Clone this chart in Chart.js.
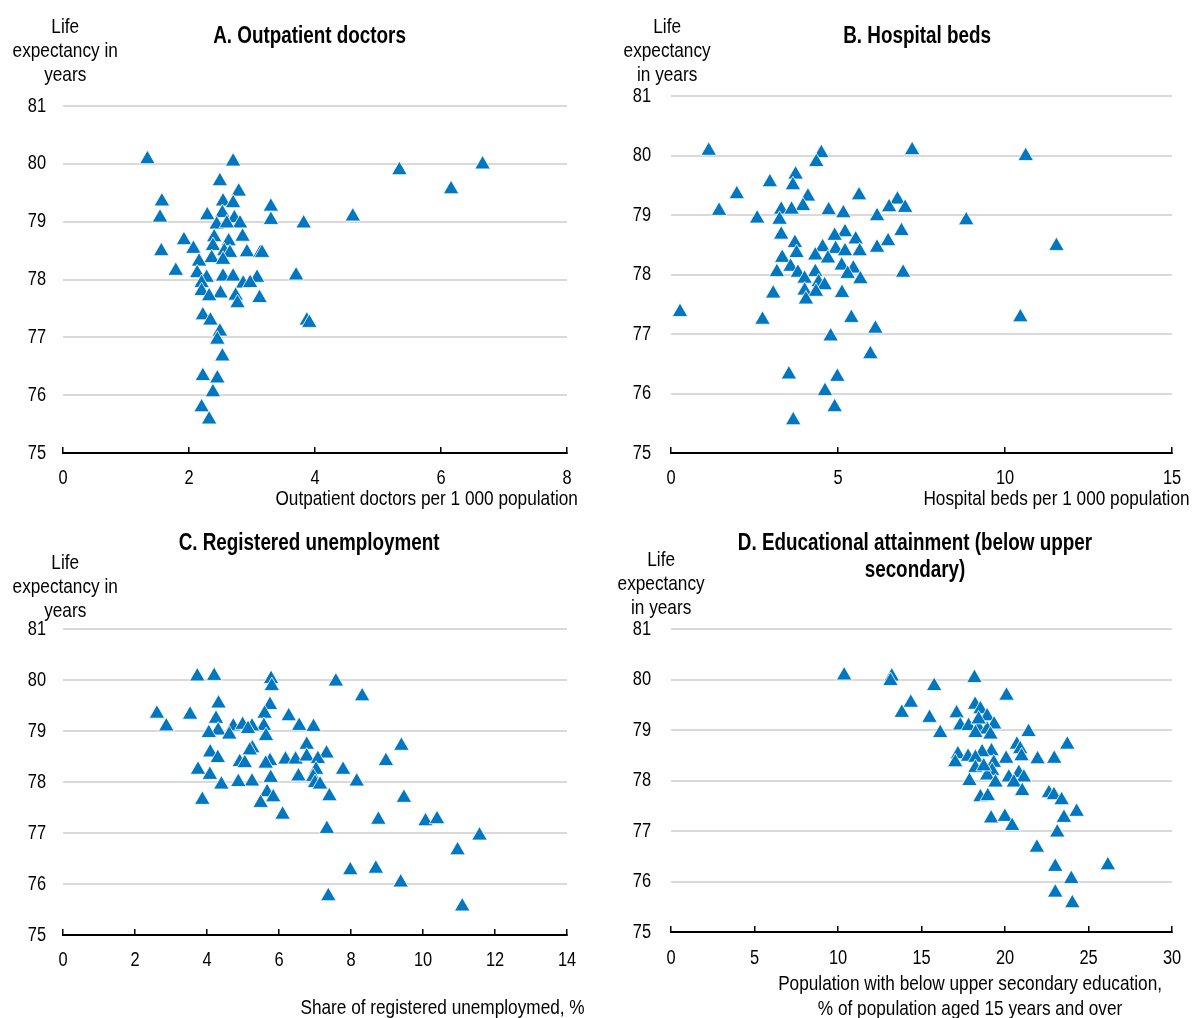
<!DOCTYPE html>
<html>
<head>
<meta charset="utf-8">
<script src="https://cdn.jsdelivr.net/npm/chart.js@4"></script>
<style>
  body { margin: 0; background: #fff; width: 1192px; height: 1018px; position: relative; overflow: hidden;
         font-family: "Liberation Sans", Arial, sans-serif; color: #000; }
  .panel { position: absolute; width: 596px; height: 509px; }
  .txt { position: absolute; font-size: 21px; line-height: 24px; white-space: nowrap; }
  .ttl { position: absolute; font-weight: bold; font-size: 23px; line-height: 27px; text-align: center; white-space: nowrap; }
  .narrow { display: inline-block; transform: scaleX(0.82); }
  .c .narrow { transform-origin: center top; }
  .r .narrow { transform-origin: right top; }
</style>
</head>
<body>
<div class="panel" style="left:0;top:0"><canvas id="chartA" width="596" height="509"></canvas></div>
<div class="panel" style="left:596px;top:0"><canvas id="chartB" width="596" height="509"></canvas></div>
<div class="panel" style="left:0;top:509px"><canvas id="chartC" width="596" height="509"></canvas></div>
<div class="panel" style="left:596px;top:509px"><canvas id="chartD" width="596" height="509"></canvas></div>

<div class="ttl c" style="left:110px;top:22px;width:400px"><span class="narrow">A. Outpatient doctors</span></div>
<div class="ttl c" style="left:717px;top:22px;width:400px"><span class="narrow">B. Hospital beds</span></div>
<div class="ttl c" style="left:109px;top:529px;width:400px"><span class="narrow">C. Registered unemployment</span></div>
<div class="ttl c" style="left:615px;top:529px;width:600px"><span class="narrow">D. Educational attainment (below upper<br>secondary)</span></div>

<div class="txt c" style="left:0;top:14px;width:130px;text-align:center"><span class="narrow">Life<br>expectancy in<br>years</span></div>
<div class="txt c" style="left:602px;top:14px;width:130px;text-align:center"><span class="narrow">Life<br>expectancy<br>in years</span></div>
<div class="txt c" style="left:0;top:550px;width:130px;text-align:center"><span class="narrow">Life<br>expectancy in<br>years</span></div>
<div class="txt c" style="left:596px;top:547px;width:130px;text-align:center"><span class="narrow">Life<br>expectancy<br>in years</span></div>

<div class="txt r" style="left:78px;top:486px;width:500px;text-align:right"><span class="narrow">Outpatient doctors per 1 000 population</span></div>
<div class="txt r" style="left:690px;top:486px;width:500px;text-align:right"><span class="narrow">Hospital beds per 1 000 population</span></div>
<div class="txt r" style="left:85px;top:995px;width:500px;text-align:right"><span class="narrow">Share of registered unemploymed, %</span></div>
<div class="txt c" style="left:670px;top:970px;width:600px;text-align:center;line-height:25px"><span class="narrow">Population with below upper secondary education,<br>% of population aged 15 years and over</span></div>

<script>
// A. outpatient doctors per 1 000 population vs life expectancy
const doctors = [1.34, 2.70, 5.34, 6.66, 2.49, 6.16, 2.79, 1.57, 2.54, 2.70, 3.30, 4.60, 1.54, 2.29, 2.53, 3.30,
  3.82, 2.72, 2.81, 2.44, 2.60, 2.40, 2.85, 1.92, 2.63, 2.38, 2.07, 1.56, 2.92, 3.13, 3.16, 2.56, 2.65, 2.36,
  2.16, 2.54, 1.79, 2.13, 2.28, 2.54, 2.70, 3.70, 3.08, 2.86, 2.97, 2.20, 2.20, 2.50, 2.32, 2.74, 3.12, 2.77,
  2.22, 2.34, 3.87, 3.91, 2.49, 2.45, 2.53, 2.22, 2.45, 2.38, 2.20, 2.32];
const lifeA = [80.08, 80.04, 79.89, 79.99, 79.70, 79.56, 79.52, 79.35, 79.35, 79.32, 79.26, 79.09, 79.07, 79.11, 79.15, 79.03,
  78.97, 79.06, 78.97, 78.95, 78.97, 78.73, 78.74, 78.68, 78.66, 78.58, 78.53, 78.49, 78.47, 78.46, 78.46, 78.49, 78.46, 78.37,
  78.31, 78.34, 78.15, 78.11, 78.03, 78.05, 78.05, 78.07, 78.03, 77.93, 77.94, 77.94, 77.80, 77.76, 77.71, 77.72, 77.68, 77.59,
  77.38, 77.29, 77.29, 77.25, 77.10, 76.96, 76.67, 76.33, 76.29, 76.05, 75.79, 75.58];

// B. hospital beds per 1 000 population
const beds = [1.13, 4.50, 7.22, 10.62, 4.35, 3.73, 2.96, 3.65, 1.97, 5.63, 4.10, 6.78, 3.95, 6.53, 7.01, 1.44, 3.30, 3.61,
  4.72, 5.16, 6.17, 2.58, 3.25, 8.84, 6.90, 3.30, 5.21, 4.90, 5.53, 6.50, 3.71, 4.54, 11.54, 6.17, 4.93, 5.21, 5.65, 3.76,
  4.32, 3.33, 4.70, 5.11, 3.58, 5.46, 3.17, 6.95, 3.80, 4.32, 5.29, 4.00, 5.67, 4.42, 4.60, 4.00, 4.34, 3.06, 5.12, 4.04,
  0.27, 10.46, 5.40, 2.74, 6.12, 4.78, 5.97, 3.53, 4.98, 4.61, 4.90, 3.66];
const lifeB = [80.08, 80.04, 80.09, 79.99, 79.89, 79.68, 79.55, 79.50, 79.35, 79.33, 79.31, 79.26, 79.15, 79.13, 79.12, 79.07, 79.09, 79.09,
  79.08, 79.03, 78.98, 78.94, 78.92, 78.91, 78.73, 78.67, 78.71, 78.65, 78.59, 78.56, 78.53, 78.46, 78.48, 78.45, 78.43, 78.39, 78.39, 78.36,
  78.32, 78.28, 78.27, 78.15, 78.13, 78.10, 78.04, 78.03, 78.03, 78.04, 78.01, 77.93, 77.92, 77.87, 77.82, 77.73, 77.71, 77.68, 77.69, 77.58,
  77.37, 77.28, 77.27, 77.24, 77.09, 76.96, 76.66, 76.32, 76.28, 76.04, 75.77, 75.55];

// C. share of registered unemployed, %
const unemployed = [3.73, 4.20, 5.78, 5.80, 7.58, 8.31, 4.32, 5.75, 2.61, 3.53, 5.60, 6.27, 4.25, 2.87, 6.56, 6.96, 5.58, 4.73,
  4.99, 5.25, 5.14, 4.31, 4.05, 4.62, 5.64, 9.40, 6.77, 5.26, 5.19, 4.09, 7.32, 4.30, 8.97, 4.91, 5.05, 5.75, 6.18, 6.46,
  6.77, 7.08, 5.63, 3.75, 7.03, 7.78, 4.08, 5.77, 6.54, 6.95, 8.16, 5.25, 4.87, 4.40, 7.00, 7.14, 5.67, 7.40, 9.47, 5.84,
  3.87, 5.49, 6.10, 8.76, 10.07, 10.39, 7.33, 11.57, 10.96, 7.98, 8.69, 9.38, 7.37, 11.09];
const lifeC = [80.07, 80.08, 80.02, 79.88, 79.97, 79.68, 79.54, 79.51, 79.34, 79.32, 79.34, 79.29, 79.24, 79.09, 79.10, 79.08, 79.10, 79.09,
  79.12, 79.09, 79.04, 79.01, 78.96, 78.93, 78.90, 78.71, 78.73, 78.66, 78.62, 78.58, 78.56, 78.47, 78.41, 78.39, 78.37, 78.41, 78.44, 78.44,
  78.50, 78.45, 78.36, 78.24, 78.24, 78.24, 78.14, 78.08, 78.11, 78.10, 78.01, 78.01, 78.00, 77.95, 77.98, 77.95, 77.80, 77.72, 77.69, 77.70,
  77.65, 77.59, 77.36, 77.26, 77.23, 77.27, 77.08, 76.95, 76.66, 76.27, 76.30, 76.03, 75.76, 75.56];

// D. population with below upper secondary education, % of population aged 15+
const belowUpper = [10.37, 13.22, 13.14, 18.17, 15.76, 20.09, 14.36, 18.21, 13.82, 15.48, 17.10, 18.53, 18.93, 19.35, 17.32, 17.82,
  18.42, 18.93, 16.12, 21.41, 18.23, 19.13, 23.73, 20.71, 20.91, 19.19, 18.63, 17.18, 17.79, 18.23, 20.99, 20.07, 21.95, 22.95,
  17.02, 19.33, 18.23, 19.23, 20.83, 18.93, 20.23, 21.13, 17.87, 19.43, 20.53, 21.03, 22.63, 22.93, 23.39, 18.53, 18.97, 24.29,
  23.53, 19.17, 19.99, 20.43, 23.13, 21.91, 26.16, 23.01, 23.97, 23.01, 24.03, 18.73, 18.42];
const lifeD = [80.08, 80.06, 79.97, 80.03, 79.87, 79.68, 79.54, 79.50, 79.34, 79.24, 79.33, 79.41, 79.27, 79.11, 79.09, 79.08,
  79.04, 79.01, 78.94, 78.96, 78.94, 78.91, 78.71, 78.71, 78.62, 78.58, 78.56, 78.52, 78.47, 78.45, 78.48, 78.43, 78.42, 78.43,
  78.36, 78.35, 78.25, 78.19, 78.15, 78.10, 78.06, 78.06, 77.99, 77.96, 77.96, 77.79, 77.75, 77.71, 77.61, 77.67, 77.69, 77.38,
  77.26, 77.25, 77.28, 77.10, 76.97, 76.67, 76.32, 76.29, 76.05, 75.78, 75.57, 78.28, 79.21];

const markerColor = "#0077c0";

// tick labels drawn horizontally squeezed to look like Arial Narrow
function drawNarrow(ctx, text, x, y) {
  ctx.save();
  ctx.translate(x, y);
  ctx.scale(0.82, 1);
  ctx.fillText(text, 0, 0);
  ctx.restore();
}

const narrowLabels = {
  id: "narrowLabels",
  afterDraw(chart, args, opts) {
    const ctx = chart.ctx;
    const xScale = chart.scales.x;
    const yScale = chart.scales.y;
    const area = chart.chartArea;
    ctx.save();
    ctx.fillStyle = "#000";
    ctx.font = "20px 'Liberation Sans', Arial, sans-serif";
    ctx.textBaseline = "middle";
    ctx.textAlign = "center";
    xScale.ticks.forEach(t => drawNarrow(ctx, String(t.value), xScale.getPixelForValue(t.value), area.bottom + opts.xGap));
    ctx.textAlign = "right";
    yScale.ticks.forEach(t => drawNarrow(ctx, String(t.value), area.left - opts.yGap, yScale.getPixelForValue(t.value)));
    ctx.restore();
  }
};

function makePanel(id, xs, ys, xMax, xStep, top, right, yWidth, xHeight, gaps) {
  const points = xs.map((x, i) => ({ x: x, y: ys[i] }));
  return new Chart(document.getElementById(id), {
    type: "scatter",
    plugins: [narrowLabels],
    data: {
      datasets: [{
        data: points,
        pointStyle: "triangle",
        pointRadius: 9,
        backgroundColor: markerColor,
        borderColor: "#ffffff",
        borderWidth: 0.8
      }]
    },
    options: {
      responsive: false,
      animation: false,
      layout: { padding: { top: top, right: right, left: 0, bottom: 0 } },
      plugins: {
        legend: { display: false },
        tooltip: { enabled: false },
        narrowLabels: gaps
      },
      scales: {
        x: {
          type: "linear",
          min: 0,
          max: xMax,
          ticks: { stepSize: xStep, display: false },
          grid: { drawOnChartArea: false, drawTicks: true, tickLength: -6, color: "#000", lineWidth: 1.5 },
          border: { color: "#000", width: 2 },
          afterFit: (axis) => { axis.height = xHeight; }
        },
        y: {
          min: 75,
          max: 81,
          ticks: { stepSize: 1, display: false },
          grid: { color: "#d9d9d9", lineWidth: 2, drawTicks: false },
          border: { display: false },
          afterFit: (axis) => { axis.width = yWidth; }
        }
      }
    }
  });
}

makePanel("chartA", doctors, lifeA, 8, 2, 106, 29, 63, 56, { xGap: 25, yGap: 17 });
makePanel("chartB", beds, lifeB, 15, 5, 96, 20, 75, 56, { xGap: 25, yGap: 20 });
makePanel("chartC", unemployed, lifeC, 14, 2, 120, 29, 63, 83, { xGap: 25, yGap: 17 });
makePanel("chartD", belowUpper, lifeD, 30, 5, 120, 20, 75, 86, { xGap: 26, yGap: 20 });
</script>
</body>
</html>
